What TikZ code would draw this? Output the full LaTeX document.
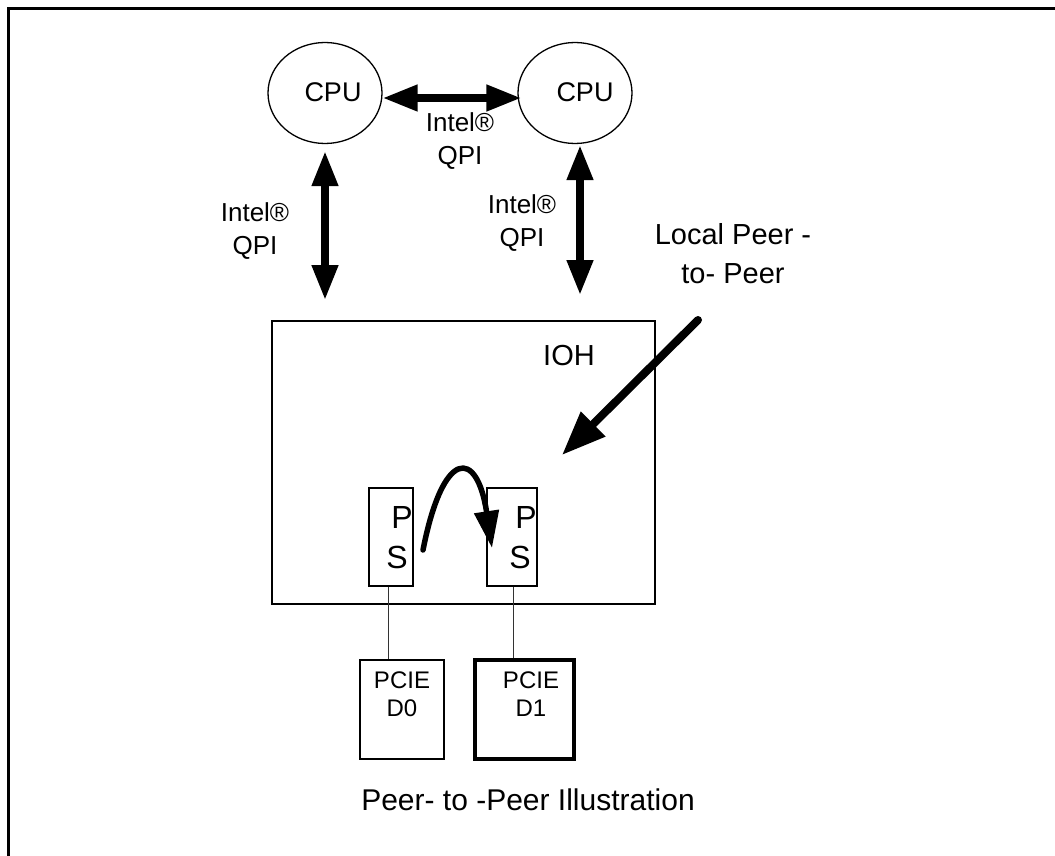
\documentclass[tikz,border=0pt]{standalone}
\usepackage{fontspec}
\setmainfont{Liberation Sans}
\usetikzlibrary{arrows.meta,shapes.geometric}
\begin{document}
\begin{tikzpicture}[x=1pt,y=-1pt,
  cpu/.style={draw, ellipse, line width=1.3pt, minimum width=114pt, minimum height=101pt, inner sep=0pt},
  boxn/.style={draw, rectangle, line width=1.3pt, inner sep=0pt},
  lbl/.style={inner sep=0pt, align=center, font=\fontsize{26}{33}\selectfont},
  big/.style={inner sep=0pt, align=center, font=\fontsize{29}{39}\selectfont},
  fat/.style={line width=7.5pt, {Triangle[length=35pt,width=25pt]}-{Triangle[length=35pt,width=25pt]}},
  wire/.style={line width=0.9pt, draw=black!80}
]
\useasboundingbox (0,0) rectangle (1055,856);
% frame
\draw[line width=2.7pt] (8.7,856) -- (8.7,8.7) -- (1055,8.7);

% CPUs
\node[cpu] (cpu1) at (325,93) {};
\node[cpu] (cpu2) at (575,93) {};
\node[lbl, font=\fontsize{27}{33}\selectfont] (cpu1t) at (333,92) {CPU};
\node[lbl, font=\fontsize{27}{33}\selectfont] (cpu2t) at (585,92) {CPU};

% QPI arrows
\draw[fat] ([yshift=-5pt]cpu1.east) -- ([yshift=-5pt,xshift=4pt]cpu2.west);
\node[lbl] (q12) at (460,141) {Intel®\\QPI};

\coordinate (q1) at (325,300);
\coordinate (q2) at (580,295);
\draw[fat] ([yshift=-7pt]cpu1.south) -- (q1);
\draw[fat] ([xshift=5pt,yshift=-1pt]cpu2.south) -- (q2);
\node[lbl] (lq1) at (255,231) {Intel®\\QPI};
\node[lbl] (lq2) at (522,223) {Intel®\\QPI};

% IOH
\node[boxn, minimum width=383pt, minimum height=283pt] (ioh) at (463.5,462.5) {};
\node[inner sep=0pt, font=\fontsize{29}{35}\selectfont] (ioht) at (569,356) {IOH};

% local peer-to-peer
\node[big] (lp) at (733,254) {Local Peer -\\to- Peer};
\coordinate (la) at (698,320);
\coordinate (lb) at (562,455);
\draw[line width=8pt, line cap=round, -{Triangle[length=44pt,width=33pt]}] (la) -- (lb);

% PS boxes
\node[boxn, minimum width=44pt, minimum height=98pt] (ps1) at (391,537) {};
\node[boxn, minimum width=50pt, minimum height=98pt] (ps2) at (512,537) {};
\node[inner sep=0pt, font=\fontsize{32}{38}\selectfont] (p1) at (402,517) {P};
\node[inner sep=0pt, font=\fontsize{32}{38}\selectfont] (s1) at (397,557) {S};
\node[inner sep=0pt, font=\fontsize{32}{38}\selectfont] (p2) at (526,517) {P};
\node[inner sep=0pt, font=\fontsize{32}{38}\selectfont] (s2) at (520,557) {S};

% curved arrow
\coordinate (ca) at (423,550);
\coordinate (cb) at (492,548);
\draw[line width=5.5pt, line cap=round, -{Triangle[length=37pt,width=24pt]}] (ca) .. controls (443,448) and (477,448) .. (cb);

% PCIE devices
\node[boxn, minimum width=84pt, minimum height=99pt] (d0) at (402,709.5) {};
\node[boxn, line width=3.4pt, minimum width=99pt, minimum height=99pt] (d1) at (524.5,709.5) {};
\node[inner sep=0pt, align=center, font=\fontsize{24}{28}\selectfont] (d0t) at (402,694) {PCIE\\D0};
\node[inner sep=0pt, align=center, font=\fontsize{24}{28}\selectfont] (d1t) at (531,694) {PCIE\\D1};

\draw[wire] ([xshift=-3pt]ps1.south) -- ([xshift=-3pt]ps1.south |- d0.north);
\draw[wire] ([xshift=1pt]ps2.south) -- ([xshift=1pt]ps2.south |- d1.north);

% caption
\node[inner sep=0pt, font=\fontsize{30}{36}\selectfont] (cap) at (528,800) {Peer- to -Peer Illustration};
\end{tikzpicture}
\end{document}
